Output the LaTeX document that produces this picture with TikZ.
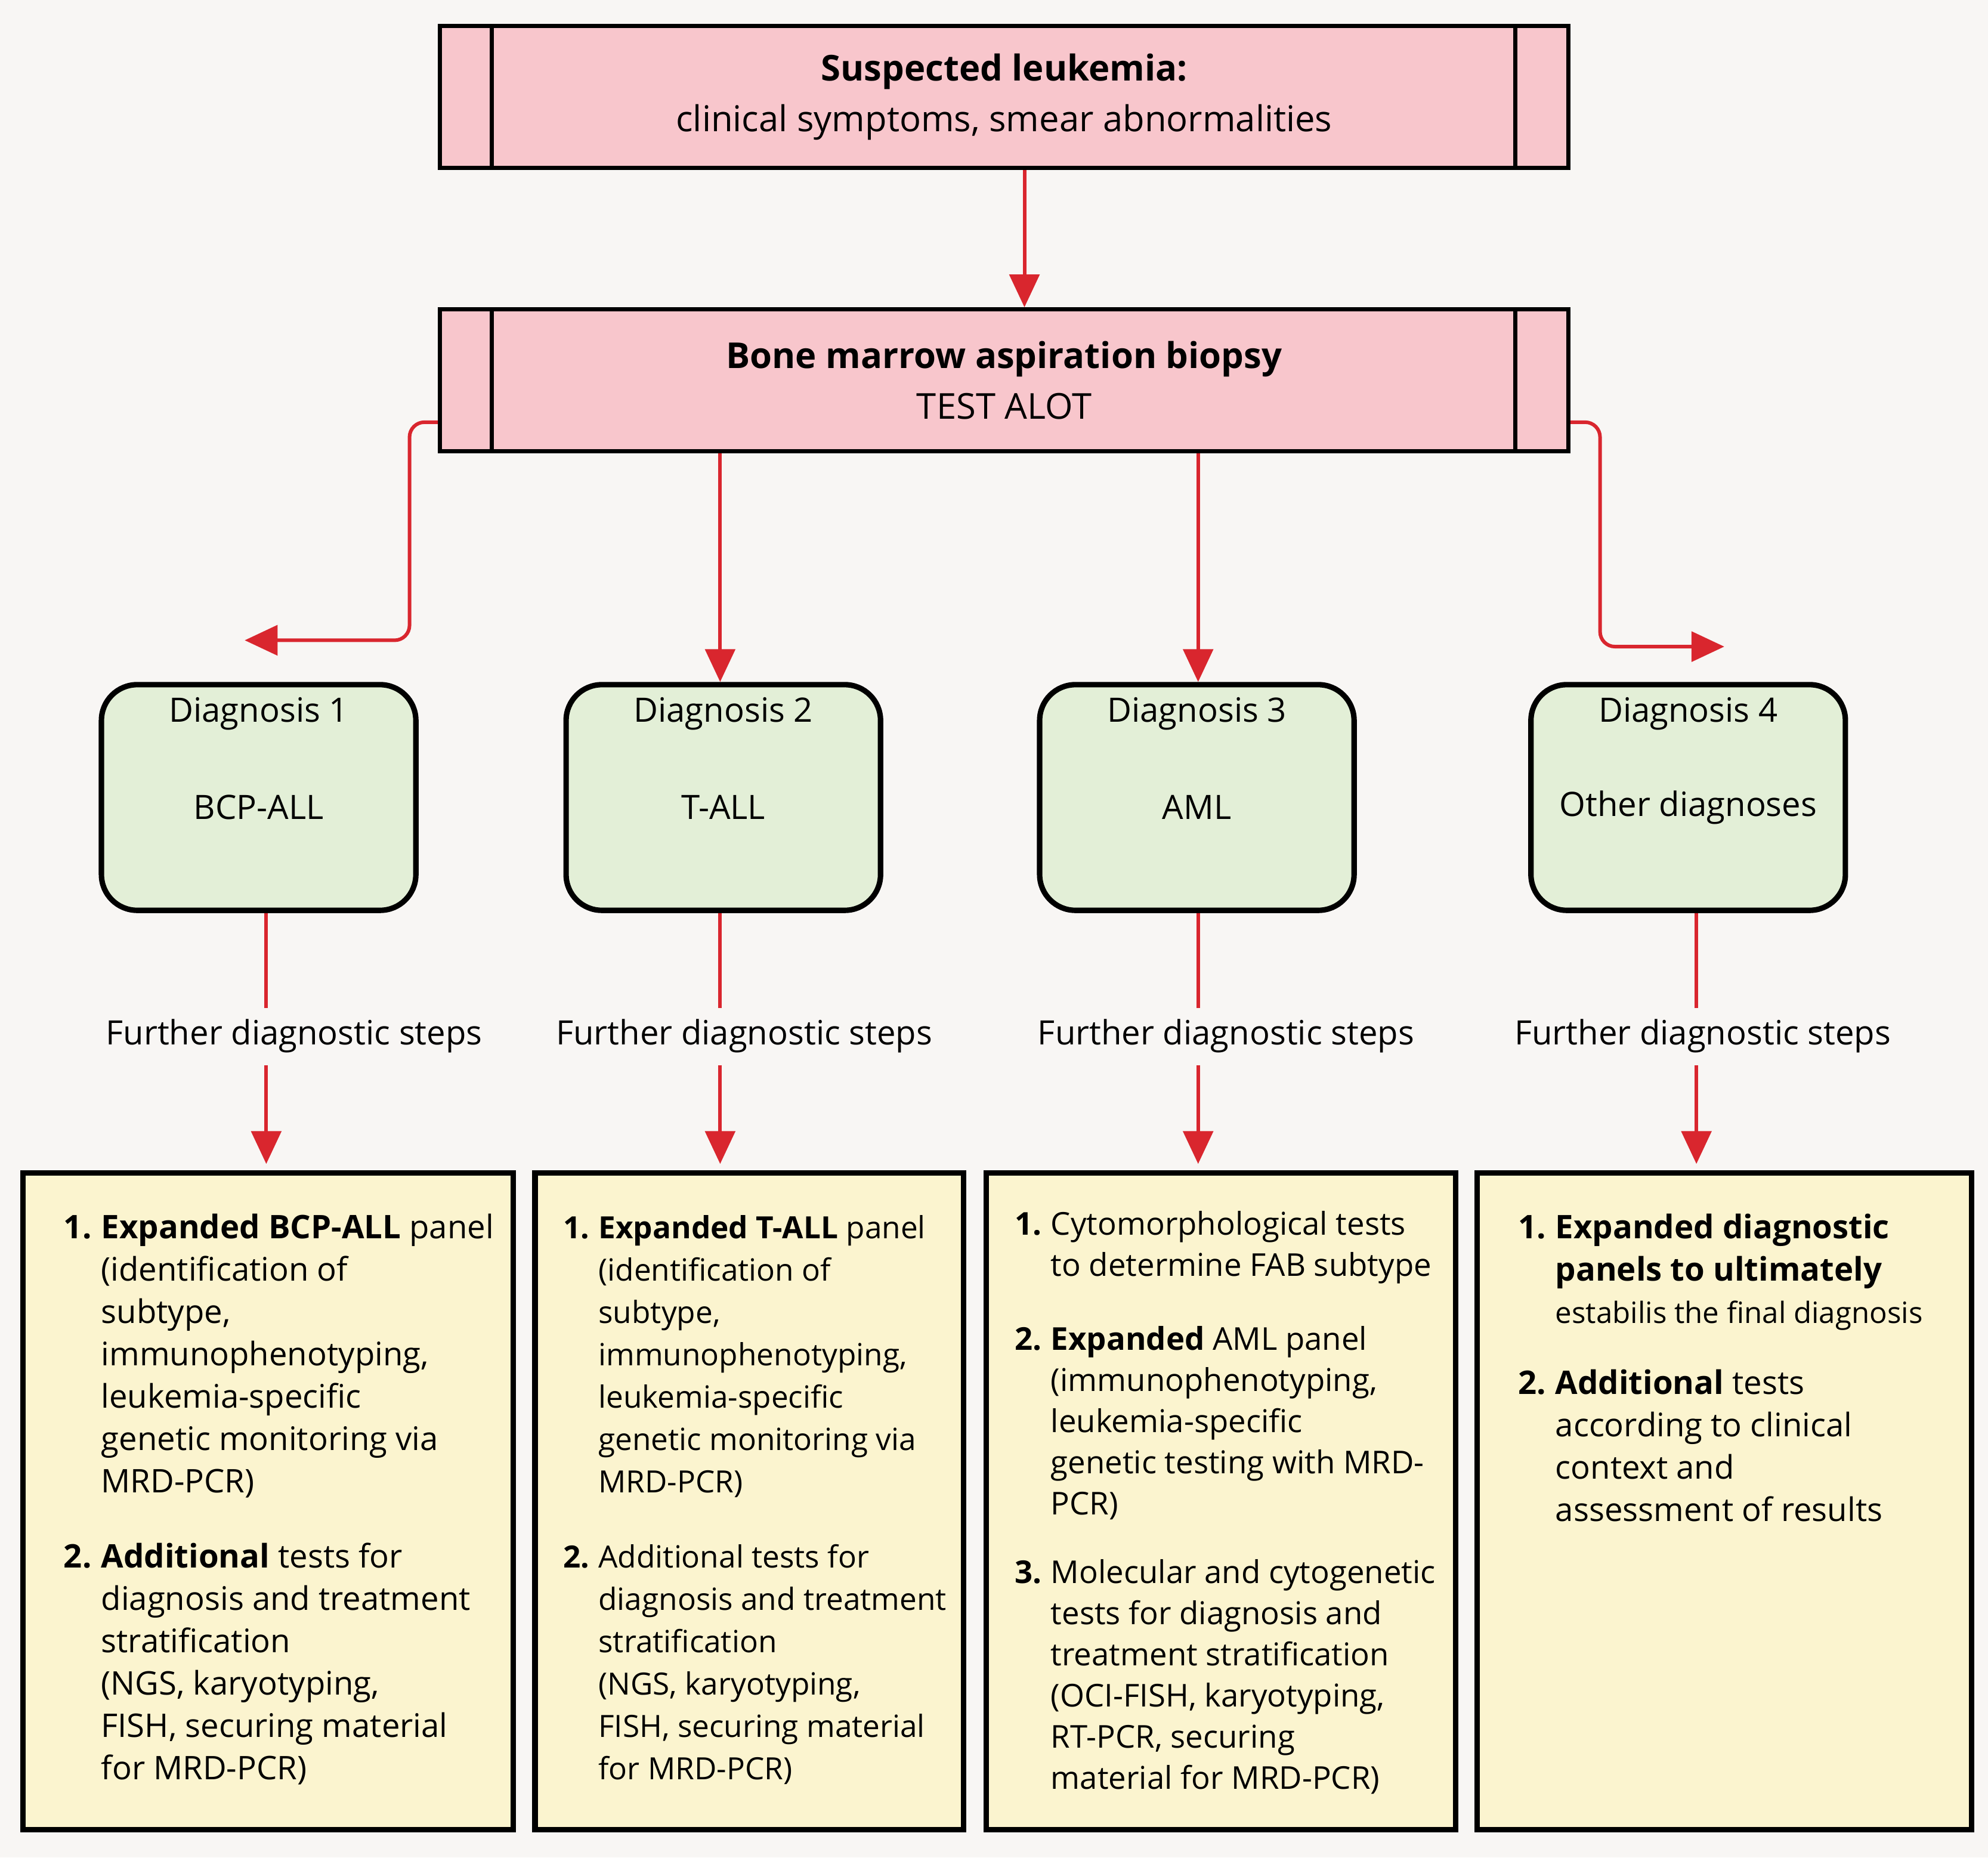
\documentclass[tikz,border=0pt]{standalone}
\usepackage{fontspec}
\setmainfont{Open Sans}
\usetikzlibrary{arrows.meta}
\definecolor{pinkf}{HTML}{F8C6CC}
\definecolor{greenf}{HTML}{E3EFD7}
\definecolor{yellf}{HTML}{FBF4CF}
\definecolor{redl}{HTML}{D9262E}
\definecolor{bgc}{HTML}{F8F6F4}
\tikzset{
 topbox/.style={draw=black,fill=pinkf,line width=2pt,minimum width=890*0.02126cm,minimum height=112*0.02126cm,inner sep=0pt,align=center},
 dbox/.style={draw=black,fill=greenf,line width=2.6pt,rounded corners=0.6cm,minimum width=248*0.02126cm,minimum height=178*0.02126cm,inner sep=0pt},
 ybox/.style={draw=black,fill=yellf,line width=2.6pt},
 arr/.style={draw=redl,line width=1.7pt,-{Triangle[length=0.55cm,width=0.5cm]}},
 lnk/.style={draw=redl,line width=1.7pt},
 itm/.style={anchor=north west,inner sep=0pt,font=\fontsize{15.5}{20.2}\selectfont},
 itms/.style={anchor=north west,inner sep=0pt,font=\fontsize{15}{19.6}\selectfont},
 itmt/.style={anchor=north west,inner sep=0pt,font=\fontsize{14.6}{20.2}\selectfont},
 lbl/.style={font=\fontsize{16}{20}\selectfont,inner sep=0pt}
}
\newenvironment{lst}{\renewcommand{\arraystretch}{1}\begin{tabular}{@{}p{1.15em}@{}l@{}}}{\end{tabular}}
\begin{document}
\begin{tikzpicture}[x=0.02126cm,y=-0.02126cm]
\fill[bgc] (0,0) rectangle (1568,1465);
\useasboundingbox (0,0) rectangle (1568,1465);
% top boxes
\node[topbox,font=\fontsize{17}{24}\selectfont] (s) at (792,76.5) {\textbf{Suspected leukemia:}\\clinical symptoms, smear abnormalities};
\draw[line width=2pt] (388,20) -- (388,133) (1195,20) -- (1195,133);
\node[topbox,font=\fontsize{17}{24}\selectfont] (b) at (792,300) {\textbf{Bone marrow aspiration biopsy}\\TEST ALOT};
\draw[line width=2pt] (388,245) -- (388,355) (1195,245) -- (1195,355);
\draw[arr] (s.south -| 808,0) -- (b.north -| 808,0);
% diagnosis boxes
\node[dbox] (d1) at (204,629) {};
\node[dbox] (d2) at (570.5,629) {};
\node[dbox] (d3) at (944,629) {};
\node[dbox] (d4) at (1331.5,629) {};
\foreach \n/\a/\b in {d1/Diagnosis 1/BCP-ALL,d2/Diagnosis 2/T-ALL,d3/Diagnosis 3/AML,d4/Diagnosis 4/Other diagnoses}{
 \node[lbl] at ([yshift=-25*0.02126cm]\n.north) {\a};
 \node[lbl] at ([yshift=-99*0.02126cm]\n.north) {\b};
}
% branches
\coordinate (e1) at (193,505);
\coordinate (e4) at (1360,510);
\draw[arr,rounded corners=0.25cm] (b.west |- 0,333) -- (323,333) -- (323,505) -- (e1);
\draw[arr] (b.south -| 568,0) -- (d2.north -| 568,0);
\draw[arr] (b.south -| 945,0) -- (d3.north -| 945,0);
\draw[arr,rounded corners=0.25cm] (b.east |- 0,333) -- (1262,333) -- (1262,510) -- (e4);
% bottom boxes
\draw[ybox] (18,925) rectangle (405,1443);
\draw[ybox] (422,925) rectangle (760,1443);
\draw[ybox] (778,925) rectangle (1148,1443);
\draw[ybox] (1165,925) rectangle (1555,1443);
% further steps
\foreach \d/\x/\lx in {d1/210/232,d2/568/587,d3/945/967,d4/1338/1343}{
 \node[lbl] (f\d) at (\lx,817) {Further diagnostic steps};
 \draw[lnk] (\d.south -| \x,0) -- (\x,795);
 \draw[arr] (\x,840) -- (\x,918);
}
% box texts
\node[itm] at (50,953) {\begin{lst}\textbf{1.}&\textbf{Expanded BCP-ALL} panel\\&(identification of\\&subtype,\\&immunophenotyping,\\&leukemia-specific\\&genetic monitoring via\\&MRD-PCR)\end{lst}};
\node[itm] at (50,1213) {\begin{lst}\textbf{2.}&\textbf{Additional} tests for\\&diagnosis and treatment\\&stratification\\&(NGS, karyotyping,\\&FISH, securing material\\&for MRD-PCR)\end{lst}};
\node[itmt] at (444,953) {\begin{lst}\textbf{1.}&\textbf{Expanded T-ALL} panel\\&(identification of\\&subtype,\\&immunophenotyping,\\&leukemia-specific\\&genetic monitoring via\\&MRD-PCR)\end{lst}};
\node[itmt] at (444,1213) {\begin{lst}\textbf{2.}&Additional tests for\\&diagnosis and treatment\\&stratification\\&(NGS, karyotyping,\\&FISH, securing material\\&for MRD-PCR)\end{lst}};
\node[itms] at (800,951) {\begin{lst}\textbf{1.}&Cytomorphological tests\\&to determine FAB subtype\end{lst}};
\node[itms] at (800,1042) {\begin{lst}\textbf{2.}&\textbf{Expanded} AML panel\\&(immunophenotyping,\\&leukemia-specific\\&genetic testing with MRD-\\&PCR)\end{lst}};
\node[itms] at (800,1226) {\begin{lst}\textbf{3.}&Molecular and cytogenetic\\&tests for diagnosis and\\&treatment stratification\\&(OCI-FISH, karyotyping,\\&RT-PCR, securing\\&material for MRD-PCR)\end{lst}};
\node[itm] at (1197,953) {\begin{lst}\textbf{1.}&\textbf{Expanded diagnostic}\\&\textbf{panels to ultimately}\\&{\fontsize{14}{20.2}\selectfont estabilis the final diagnosis}\end{lst}};
\node[itm] at (1197,1076) {\begin{lst}\textbf{2.}&\textbf{Additional} tests\\&according to clinical\\&context and\\&assessment of results\end{lst}};
\end{tikzpicture}
\end{document}
